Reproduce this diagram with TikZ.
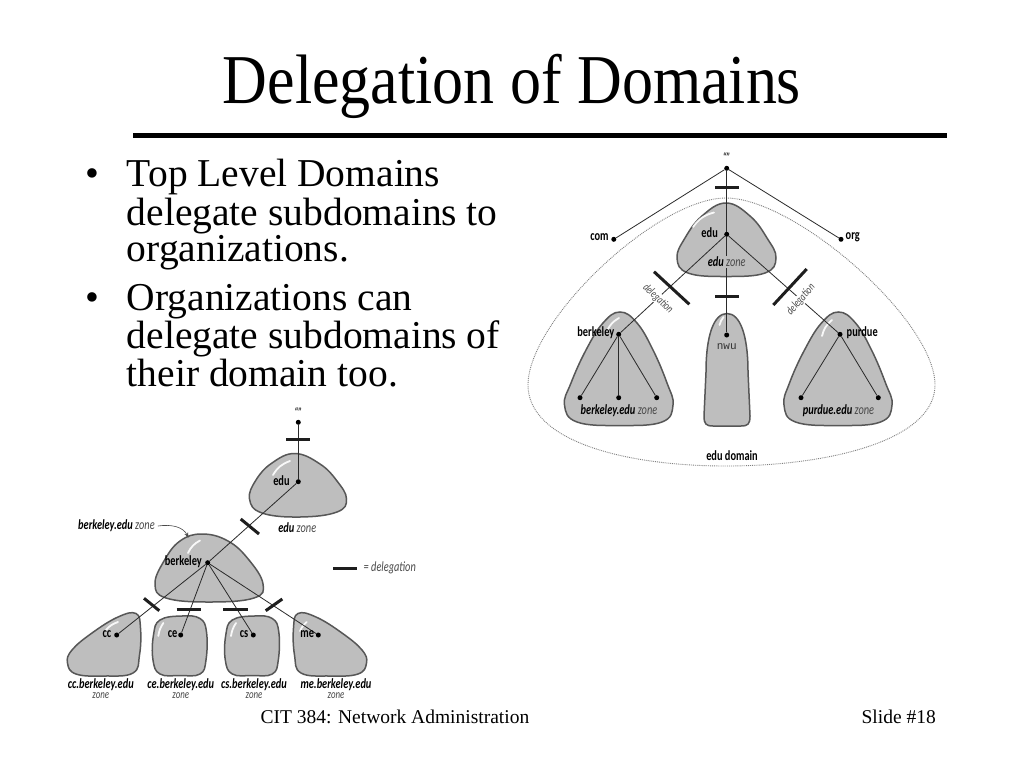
\documentclass[tikz,border=0pt]{standalone}
\usepackage{fontspec}
\setmainfont{Liberation Serif}
\newfontfamily\titlefont[FakeStretch=0.885]{Liberation Serif}
\newfontfamily\labfont[FakeStretch=0.74]{Carlito}
\newfontfamily\nwufont{Liberation Mono}
\usetikzlibrary{arrows.meta}
\definecolor{blobgray}{HTML}{BEBEBE}
\definecolor{blobedge}{HTML}{575757}
\definecolor{linkcol}{HTML}{2A2A2A}
\definecolor{zonecol}{HTML}{4A4A4A}
\definecolor{dotline}{HTML}{808080}
\definecolor{barcol}{HTML}{1E1E1E}
\begin{document}
\begin{tikzpicture}[x=1pt,y=-1pt,
  blob/.style={fill=blobgray,draw=blobedge,line width=1.5pt},
  link/.style={draw=linkcol,line width=0.8pt},
  deleg/.style={draw=barcol,line width=3pt},
  hl/.style={draw=white,line width=1.8pt,line cap=round,opacity=0.9},
  dot/.style={circle,fill=black,inner sep=0pt,minimum size=5pt},
  lbl/.style={font={\labfont\bfseries\fontsize{14}{14}\selectfont},inner sep=0pt,text=black},
  zlbl/.style={font={\labfont\fontsize{14}{14}\selectfont},inner sep=0pt,text=black},
  sublbl/.style={font={\labfont\fontsize{12}{12}\selectfont\itshape},inner sep=0pt,text=zonecol},
  dtxt/.style={font={\labfont\fontsize{11.5}{11.5}\selectfont\itshape},inner sep=0.6pt,fill=white,text=zonecol},
  qlbl/.style={font={\labfont\bfseries\itshape\fontsize{12}{12}\selectfont},inner sep=0pt,text=black!80},
  bul/.style={font={\fontsize{39.5}{40}\selectfont},anchor=base west,inner sep=0pt},
]
\useasboundingbox (0,0) rectangle (1024,768);
\fill[white] (0,0) rectangle (1024,768);

% ---------- title ----------
\node[anchor=base,inner sep=0pt] (title) at (512,103)
  {\titlefont\fontsize{70}{70}\selectfont Delegation of Domains};
\draw[line width=4.5pt] (133,135.5) -- (947,135.5);

% ---------- bullets ----------
\node[bul] (b1) at (85,186.7) {•};
\node[bul] (t1) at (126.7,186.7) {Top Level Domains};
\node[bul] (t2) at (126.7,225) {delegate subdomains to};
\node[bul] (t3) at (126.7,261.7) {organizations.};
\node[bul] (b2) at (85,310) {•};
\node[bul] (t4) at (126.7,310) {Organizations can};
\node[bul] (t5) at (126.7,348.3) {delegate subdomains of};
\node[bul] (t6) at (126.7,386.7) {their domain too.};

% ---------- footer ----------
\node[anchor=base,inner sep=0pt] (foot) at (395,723)
  {\fontsize{19.5}{20}\selectfont CIT 384: Network Administration};
\node[anchor=base east,inner sep=0pt] (slide) at (936,723)
  {\fontsize{19.5}{20}\selectfont Slide \#18};

% =========== TOP RIGHT DIAGRAM ===========
\draw[dotline,line width=0.9pt,densely dotted]
  (726,198) .. controls (795,198) and (935,320) .. (935,385)
  .. controls (935,440) and (830,466) .. (726,466)
  .. controls (622,466) and (528,440) .. (528,385)
  .. controls (528,320) and (657,198) .. (726,198);

\draw[blob] plot[smooth cycle,tension=0.7] coordinates {(726,203) (750,216) (767,238) (776,258) (765,273) (726,276.5) (688,273) (677,258) (685,238) (702,216)};
\draw[blob] plot[smooth cycle,tension=0.7] coordinates {(620,312) (637,323) (653,350) (667,383) (673,405) (662,422) (620,425.5) (577,422) (564.5,405) (571,383) (586,350) (603,323)};
\draw[blob] plot[smooth cycle,tension=0.7] coordinates {(838.5,312) (855.5,323) (871.5,350) (885.5,383) (892,405) (880.5,422) (838.5,425.5) (795.5,422) (784,405) (789.5,383) (804.5,350) (821.5,323)};
\draw[blob] (706,372) .. controls (706,335) and (714,313.5) .. (727,313.5)
  .. controls (740,313.5) and (748,335) .. (748,372) -- (750,416)
  .. controls (750,424) and (748,426) .. (741,426) -- (713,426)
  .. controls (706,426) and (704,424) .. (704,416) -- cycle;

\draw[hl] (693,227) to[bend left=20] (714,212.5);
\draw[hl] (607,331) to[bend left=18] (619,318);
\draw[hl] (822,336) to[bend left=18] (832,320);
\draw[hl] (719.5,325) to[bend left=12] (723.5,317);

\node[dot] (root) at (726.7,168.3) {};
\node[dot] (com) at (613.8,239.3) {};
\node[dot] (org) at (841,239.3) {};
\node[dot] (edu) at (726.7,234.3) {};
\node[dot] (berk) at (618.7,334.3) {};
\node[dot] (nwu) at (726.7,335) {};
\node[dot] (purd) at (840,334.3) {};
\node[dot] (bk1) at (580,397.7) {};
\node[dot] (bk2) at (618.7,397.7) {};
\node[dot] (bk3) at (656.7,397.7) {};
\node[dot] (pu1) at (801,397.7) {};
\node[dot] (pu2) at (878.3,397.7) {};

\draw[link] (root) -- (com);
\draw[link] (root) -- (org);
\draw[link] (root) -- (edu);
\draw[link] (edu) -- (berk);
\draw[link] (edu) -- (nwu);
\draw[link] (edu) -- (purd);
\draw[link] (berk) -- (bk1);
\draw[link] (berk) -- (bk2);
\draw[link] (berk) -- (bk3);
\draw[link] (purd) -- (pu1);
\draw[link] (purd) -- (pu2);

\draw[deleg] (715,187.7) -- (739,187.7);
\draw[deleg] (715,296.7) -- (739,296.7);
\draw[deleg] (654,271.7) -- (689.3,304.3);
\draw[deleg] (773.3,305) -- (806.7,269);

\node[dtxt,rotate=-43] (dl1) at (658,298.5) {delegation};
\node[dtxt,rotate=49] (dl2) at (801,299.5) {delegation};

\node[qlbl] (q1) at (726.7,157.5) {“”};
\node[lbl,anchor=east] (comt) at (608.8,237) {com};
\node[lbl,anchor=west] (orgt) at (845.5,237) {org};
\node[lbl,anchor=east] (edut) at (718,233) {edu};
\node[zlbl,fill=blobgray,inner sep=1.2pt] (eduz) at (726.7,261.7) {\textbf{\textit{edu}} \textcolor{zonecol}{\textit{zone}}};
\node[lbl,anchor=east] (berkt) at (614.5,333) {berkeley};
\node[lbl,anchor=west] (purdt) at (846.5,333) {purdue};
\node[inner sep=0pt,font={\nwufont\fontsize{11}{11}\selectfont},text=black!80] (nwut) at (726.7,347) {nwu};
\node[zlbl] (berkz) at (619,411) {\textbf{\textit{berkeley.edu}} \textcolor{zonecol}{\textit{zone}}};
\node[zlbl] (purdz) at (838.5,411) {\textbf{\textit{purdue.edu}} \textcolor{zonecol}{\textit{zone}}};
\node[lbl] (edud) at (732,455.7) {edu domain};

% =========== BOTTOM LEFT DIAGRAM ===========
\draw[blob] plot[smooth cycle,tension=0.7] coordinates {(295,453.5) (320,464) (337,481) (346.5,499) (337,512) (300,517) (262,513) (249.5,499) (256,480) (272,463)};
\draw[blob] plot[smooth cycle,tension=0.7] coordinates {(202,534) (228,541) (249,560) (263,584) (254,598) (209,602) (166,598) (155,584) (164,561) (180,541)};
\draw[blob] plot[smooth cycle,tension=0.7] coordinates {(136,613.5) (140.5,628) (139.5,655) (133,673) (104,676) (76,674) (67.5,663) (72,650) (92,633) (118,617)};
\draw[blob] plot[smooth cycle,tension=0.7] coordinates {(182,616) (200,618.5) (206.5,632) (206,660) (200,674) (180,675.5) (160,674) (153,660) (153.5,635) (160,620)};
\draw[blob] plot[smooth cycle,tension=0.7] coordinates {(254.3,616) (272.3,618.5) (278.8,632) (278.3,660) (272.3,674) (252.3,675.5) (232.3,674) (225.3,660) (225.8,635) (232.3,620)};
\draw[blob] plot[smooth cycle,tension=0.7] coordinates {(298,613.5) (293.5,628) (294.5,655) (301,673) (330,676) (358,674) (366.5,663) (362,650) (342,633) (316,617)};

\draw[hl] (273,475) to[bend left=20] (290,461);
\draw[hl] (188,553) to[bend left=18] (200,540.5);
\draw[hl] (106,630) to[bend left=15] (118,622);
\draw[hl] (158.3,636) to[bend left=12] (163.3,623);
\draw[hl] (231,636) to[bend left=12] (236,623);
\draw[hl] (300,631) to[bend left=12] (306.7,622);

\node[dot] (root2) at (298.3,422.3) {};
\node[dot] (edu2) at (298.3,481.7) {};
\node[dot] (berk2) at (207.7,562.7) {};
\node[dot] (cc) at (116.7,635) {};
\node[dot] (ce) at (180.7,635) {};
\node[dot] (cs) at (253.3,635) {};
\node[dot] (me) at (318.3,635) {};

\draw[link] (root2) -- (edu2);
\draw[link] (edu2) -- (berk2);
\draw[link] (berk2) -- (cc);
\draw[link] (berk2) -- (ce);
\draw[link] (berk2) -- (cs);
\draw[link] (berk2) -- (me);

\draw[deleg] (286,439.3) -- (310,439.3);
\draw[deleg] (240.7,519) -- (259,534);
\draw[deleg] (144,598.3) -- (159.3,610.7);
\draw[deleg] (176.7,609) -- (200.7,609);
\draw[deleg] (223.3,609) -- (248.3,609);
\draw[deleg] (265.7,610.7) -- (282.3,599);

\node[qlbl] (q2) at (298.3,412) {“”};
\node[lbl,anchor=east] (edu2t) at (289.8,481) {edu};
\node[zlbl] (edu2z) at (297.3,527.7) {\textbf{\textit{edu}} \textcolor{zonecol}{\textit{zone}}};
\node[lbl,anchor=east] (berk2t) at (202,561.5) {berkeley};
\node[zlbl,anchor=west] (bzann) at (78,526) {\textbf{\textit{berkeley.edu}} \textcolor{zonecol}{\textit{zone}}};
\coordinate (arrtip) at (188.5,537.5);
\draw[draw=zonecol,line width=0.6pt,-{Stealth[length=5pt,width=4pt]}] ([xshift=3pt]bzann.east) .. controls (172,524) and (183,527) .. (arrtip);

\coordinate (lg1) at (333.3,568.3);
\coordinate (lg2) at (356.7,568.3);
\draw[deleg] (lg1) -- (lg2);
\node[zlbl,anchor=west,text=zonecol] (lgt) at (363.5,568.3) {\textit{= delegation}};

\node[lbl,anchor=east] (cct) at (111.5,634) {cc};
\node[lbl,anchor=east] (cet) at (177.5,634) {ce};
\node[lbl,anchor=east] (cst) at (248.5,634) {cs};
\node[lbl,anchor=east] (met) at (314.3,634) {me};

\node[zlbl] (ccz) at (100.8,685) {\textbf{\textit{cc.berkeley.edu}}};
\node[sublbl] (ccz2) at (100.8,696) {zone};
\node[zlbl] (cez) at (180.8,685) {\textbf{\textit{ce.berkeley.edu}}};
\node[sublbl] (cez2) at (180.8,696) {zone};
\node[zlbl] (csz) at (254,685) {\textbf{\textit{cs.berkeley.edu}}};
\node[sublbl] (csz2) at (254,696) {zone};
\node[zlbl] (mez) at (336,685) {\textbf{\textit{me.berkeley.edu}}};
\node[sublbl] (mez2) at (336,696) {zone};
\end{tikzpicture}
\end{document}
